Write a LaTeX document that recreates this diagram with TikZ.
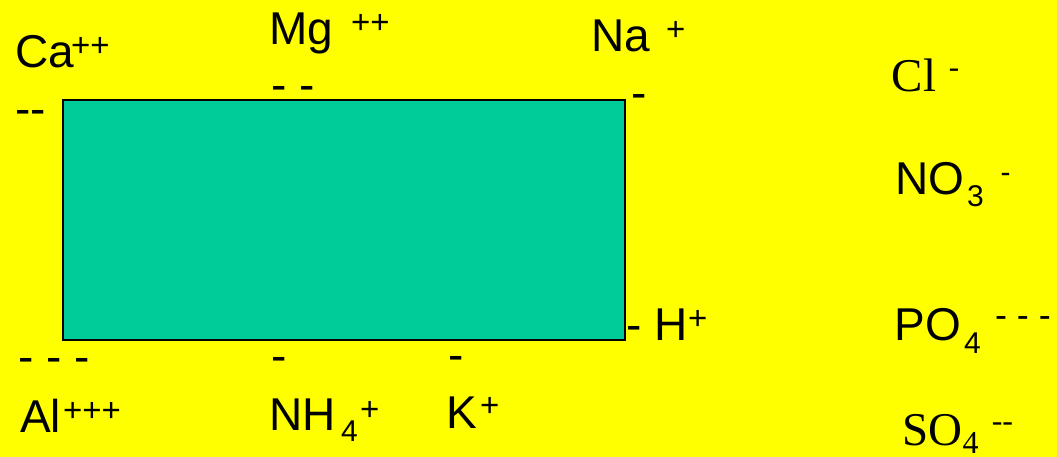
\documentclass[tikz,border=0pt]{standalone}
\usepackage{fontspec}
\setmainfont{Liberation Sans}
\newfontfamily\tnr{Liberation Serif}
\definecolor{bgyellow}{HTML}{FFFF00}
\definecolor{boxteal}{HTML}{00CC99}
\begin{document}
\begin{tikzpicture}[x=1pt,y=-1pt,
  txt/.style={anchor=base west, inner sep=0pt, outer sep=0pt, text=black},
  big/.style={txt, font=\fontsize{46}{50}\selectfont},
  supx/.style={txt, font=\fontsize{33}{36}\selectfont},
  subx/.style={txt, font=\fontsize{30}{33}\selectfont},
  dsh/.style={txt, font=\fontsize{46}{50}\selectfont},
  sbig/.style={txt, font=\tnr\fontsize{47}{50}\selectfont},
  ssml/.style={txt, font=\tnr\fontsize{31}{34}\selectfont},
  boxst/.style={draw=black, line width=1.5pt, fill=boxteal, inner sep=0pt, outer sep=0pt, anchor=north west, minimum width=562pt, minimum height=240pt}
]
\fill[bgyellow] (0,0) rectangle (1057,457);
\useasboundingbox (0,0) rectangle (1057,457);

\node[boxst] (box) at (63,100) {};

% Ca
\node[big] (ca) at (15,68) {Ca};
\node[supx] (caq) at (71,57) {++};
\node[dsh] (cad) at (15.3,125) {-{}-};
% Mg
\node[big] (mg) at (269.6,45) {Mg};
\node[supx] (mgq) at (351,34) {++};
\node[dsh] (mgd) at (271,101) {- -};
% Na
\node[big] (na) at (591.5,52) {Na};
\node[supx] (naq) at (666,41) {+};
\node[dsh] (nad) at (631,108.6) {-};
% Cl
\node[sbig] (cl) at (891.7,92) {Cl};
\node[ssml] (clq) at (948.8,78) {-};
% NO3
\node[big] (no) at (895.5,195) {NO};
\node[subx] (nosub) at (967,207) {3};
\node[subx] (noq) at (1000.6,182.5) {-};
% PO4
\node[big] (po) at (894.4,340) {PO};
\node[subx] (posub) at (964,353) {4};
\node[txt, font=\fontsize{36}{40}\selectfont] (poq) at (995,327.3) {- - -};
% SO4
\node[sbig] (so) at (902.3,445) {SO};
\node[txt, font=\tnr\fontsize{32}{34}\selectfont] (sosub) at (962.6,453.5) {4};
\node[txt, font=\tnr\fontsize{32}{34}\selectfont] (soq) at (991.8,431.2) {-{}-};
% Al
\node[big] (al) at (20,432) {Al};
\node[supx] (alq) at (63,421) {+++};
\node[dsh] (ald) at (18,372.6) {- - -};
% NH4
\node[big] (nh) at (269.5,430) {NH};
\node[subx] (nhsub) at (341,441.7) {4};
\node[supx] (nhq) at (360,420.7) {+};
\node[dsh] (nhd) at (271.2,371) {-};
% K
\node[big] (k) at (446.6,428) {K};
\node[supx] (kq) at (480,416) {+};
\node[dsh] (kd) at (448,370.6) {-};
% H
\node[big] (h) at (626,340) {- H};
\node[supx] (hq) at (688,329) {+};
\end{tikzpicture}
\end{document}
